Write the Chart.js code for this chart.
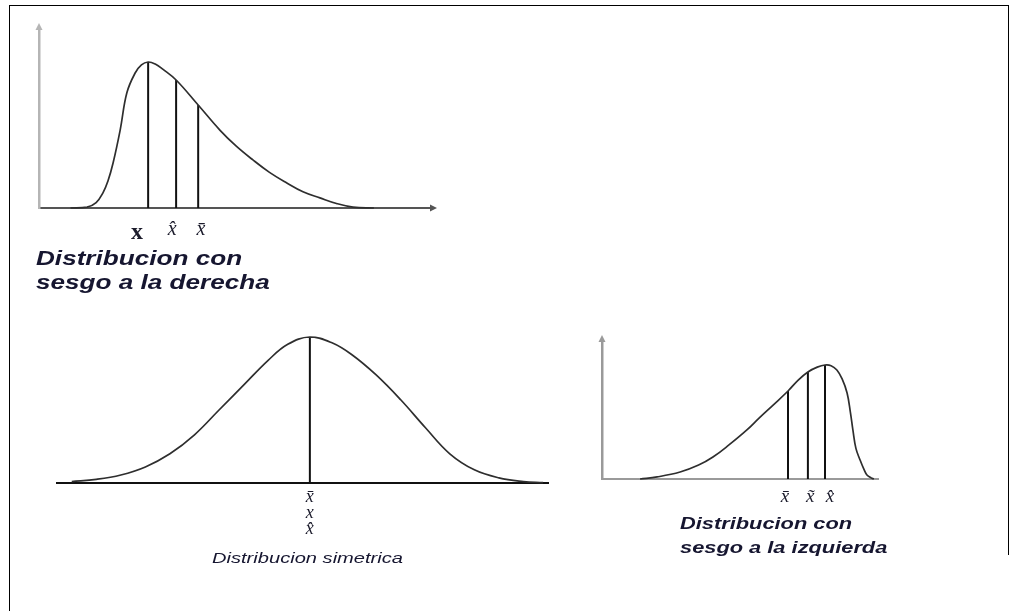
<!DOCTYPE html>
<html>
<head>
<meta charset="utf-8">
<script src="https://cdn.jsdelivr.net/npm/chart.js@4"></script>
<style>
    body { margin: 0; background: #fff; width: 1019px; height: 611px; position: relative; overflow: hidden; font-family: "Liberation Sans", Arial, sans-serif; }
    canvas { position: absolute; }
    .frame { position: absolute; background: #000; }
    .title { position: absolute; color: #161630; font-style: italic; white-space: nowrap; transform-origin: 0 0; transform: scaleX(1.34); }
</style>
</head>
<body>
<div class="frame" style="left:9px;top:5px;width:1000px;height:1px"></div>
<div class="frame" style="left:9px;top:5px;width:1px;height:606px"></div>
<div class="frame" style="left:1008px;top:5px;width:1px;height:550px"></div>

<canvas id="skewRight" width="430" height="240" style="left:20px;top:20px"></canvas>
<canvas id="symmetric" width="530" height="260" style="left:40px;top:320px"></canvas>
<canvas id="skewLeft" width="310" height="200" style="left:585px;top:325px"></canvas>

<div class="title" style="left:36px;top:246px;font-size:19.5px;line-height:24px;font-weight:bold">Distribucion con<br>sesgo a la derecha</div>
<div class="title" style="left:212px;top:549px;font-size:15px;line-height:18px">Distribucion simetrica</div>
<div class="title" style="left:680px;top:511px;font-size:16.3px;line-height:24px;font-weight:bold">Distribucion con<br>sesgo a la izquierda</div>

<script>
// Right-skewed curve (x and height on 0..100 scales)
const rightX = [8, 12.2, 14.5, 16.2, 17.5, 18.8, 20.6, 22.3, 24.4, 26, 27.7, 29.5, 31.5, 34.8, 40.4, 45.9, 50, 54.3, 58.5, 62.9, 67, 71.3, 75.5, 79.7, 85];
const rightY = [0, 0.5, 3, 8.3, 15, 25, 43.3, 64, 75, 79.5, 81.1, 80, 77, 71.1, 57.2, 43.3, 34.5, 26.7, 19.8, 13.9, 9, 5.6, 2.5, 0.5, 0];
const rightMarkX = [27.7, 34.8, 40.4];   // moda, mediana, media
const rightMarkY = [81.1, 71.1, 57.2];
const rightLabelX = [24.9, 33.8, 41.1];
const rightLabels = ['x', 'x\u0302', 'x\u0304'];

// Symmetric curve
const symX = [3, 8, 13, 18, 23, 28, 33, 38, 43, 47, 51.5, 56, 60, 65, 70, 75, 80, 85, 90, 95, 99];
const symY = [1, 2.5, 5.5, 11, 20, 33, 50, 67, 84, 95, 100, 96, 88, 74, 57, 38, 20, 9, 3.5, 1, 0.2];
const symMarkX = [51.5];
const symMarkY = [100];
const symLabelX = [51.5];
const symLabels = [['x\u0304', 'x', 'x\u0302']];

// Left-skewed curve
const leftX = [13.8, 20, 28.3, 35, 40.2, 46, 52.5, 57, 62, 67.4, 71, 74.6, 78, 80.8, 83, 85.1, 87, 88.8, 90, 90.9, 92, 93.5, 95, 96, 97.5, 98.5];
const leftY = [0, 1.5, 5, 10, 15.8, 24.5, 35.3, 44, 53.2, 63.3, 71, 77, 80.5, 82, 81.5, 78.4, 72, 61.9, 48, 35.3, 22, 13.7, 6.5, 2.9, 0.8, 0];
const leftMarkX = [67.4, 74.6, 80.8];    // media, mediana, moda
const leftMarkY = [63.3, 77, 82];
const leftLabelX = [66.3, 75.4, 82.6];
const leftLabels = ['x\u0304', 'x\u0303', 'x\u0302'];

// Small arrow heads at the ends of the axes
function arrowPlugin(xArrow, yArrow, xColor, yColor) {
    return {
        id: 'arrows',
        afterDraw(chart) {
            const ctx = chart.ctx;
            const a = chart.chartArea;
            ctx.save();
            if (yArrow) {
                ctx.fillStyle = yColor;
                ctx.beginPath();
                ctx.moveTo(a.left, a.top - 5);
                ctx.lineTo(a.left - 3.5, a.top + 2);
                ctx.lineTo(a.left + 3.5, a.top + 2);
                ctx.fill();
            }
            if (xArrow) {
                ctx.fillStyle = xColor;
                ctx.beginPath();
                ctx.moveTo(a.right + 4, a.bottom);
                ctx.lineTo(a.right - 3, a.bottom - 3.5);
                ctx.lineTo(a.right - 3, a.bottom + 3.5);
                ctx.fill();
            }
            ctx.restore();
        }
    };
}

function buildChart(id, curveX, curveY, markX, markY, labelX, labelText, cfg) {
    const datasets = [{
        data: curveX.map((x, i) => ({ x: x, y: curveY[i] })),
        borderColor: '#2e2e2e',
        borderWidth: 1.7,
        pointRadius: 0,
        tension: 0.4,
        clip: false
    }];
    markX.forEach((x, i) => {
        datasets.push({
            data: [{ x: x, y: 0 }, { x: x, y: markY[i] }],
            borderColor: '#111',
            borderWidth: 2,
            pointRadius: 0,
            clip: false
        });
    });

    return new Chart(document.getElementById(id), {
        type: 'line',
        data: { datasets },
        options: {
            responsive: false,
            animation: false,
            devicePixelRatio: 1,
            layout: { padding: cfg.padding },
            plugins: { legend: { display: false }, tooltip: { enabled: false } },
            scales: {
                x: {
                    type: 'linear', min: 0, max: 100,
                    grid: { display: false, drawTicks: false },
                    border: { display: true, color: cfg.xColor, width: cfg.xWidth },
                    afterFit: s => { s.height = cfg.axisHeight; },
                    afterBuildTicks: s => { s.ticks = labelX.map(v => ({ value: v })); },
                    ticks: {
                        autoSkip: false, maxRotation: 0, padding: cfg.tickPad,
                        color: '#1c1c2c',
                        font: cfg.tickFont,
                        callback: (v, i) => labelText[i]
                    }
                },
                y: {
                    display: cfg.showY, min: 0, max: 100,
                    grid: { display: false, drawTicks: false },
                    border: { display: true, color: cfg.yColor, width: 2.5 },
                    ticks: { display: false },
                    afterFit: s => { s.width = 0; }
                }
            }
        },
        plugins: [arrowPlugin(cfg.xArrow, cfg.showY, cfg.xColor, cfg.yColor)]
    });
}

buildChart('skewRight', rightX, rightY, rightMarkX, rightMarkY, rightLabelX, rightLabels, {
    padding: { left: 19, top: 8, right: 17, bottom: 12 },
    axisHeight: 40, tickPad: 10,
    xColor: '#555', xWidth: 2, yColor: '#b5b5b5', showY: true, xArrow: true,
    tickFont: c => c.index === 0
        ? { family: 'Liberation Serif', size: 24, weight: 'bold' }
        : { family: 'Liberation Serif', size: 20, style: 'italic' }
});

buildChart('symmetric', symX, symY, symMarkX, symMarkY, symLabelX, symLabels, {
    padding: { left: 17, top: 17, right: 22, bottom: 37 },
    axisHeight: 60, tickPad: 6,
    xColor: '#111', xWidth: 2, yColor: '#111', showY: false, xArrow: false,
    tickFont: { family: 'Liberation Serif', size: 18, style: 'italic', lineHeight: 0.9 }
});

buildChart('skewLeft', leftX, leftY, leftMarkX, leftMarkY, leftLabelX, leftLabels, {
    padding: { left: 17, top: 15, right: 17, bottom: 6 },
    axisHeight: 40, tickPad: 7,
    xColor: '#9a9a9a', xWidth: 2, yColor: '#9a9a9a', showY: true, xArrow: false,
    tickFont: { family: 'Liberation Serif', size: 19, style: 'italic' }
});
</script>
</body>
</html>
